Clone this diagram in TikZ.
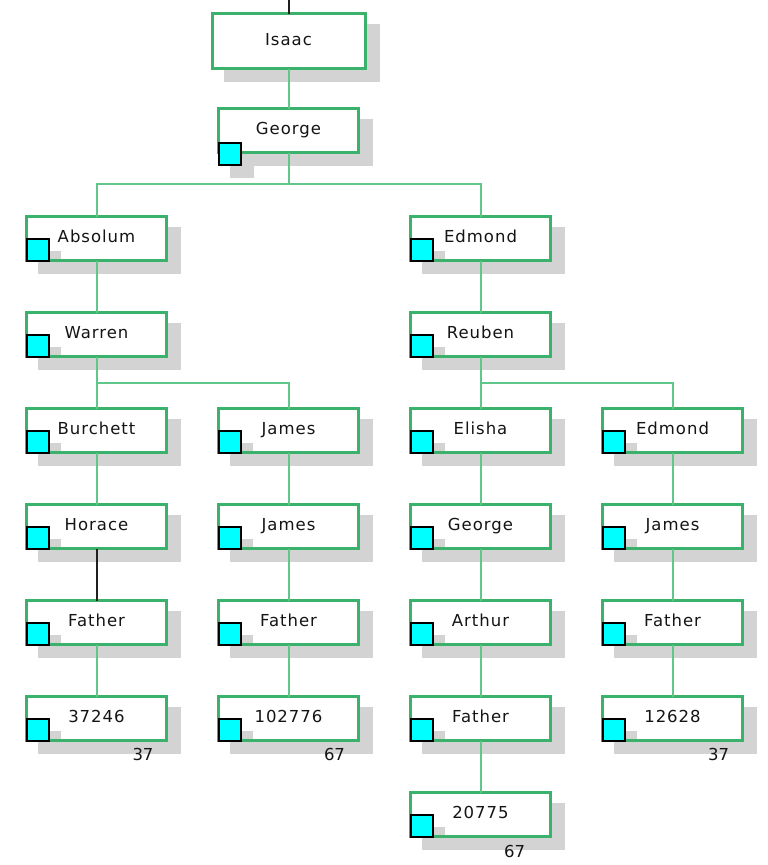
\documentclass[tikz,border=0pt]{standalone}
\usepackage{fontspec}
\setmainfont{DejaVu Sans}
\newfontfamily\lblfont[LetterSpace=6]{DejaVu Sans}
\usetikzlibrary{shadows}
\definecolor{boxgreen}{RGB}{58,178,108}
\definecolor{linkgreen}{RGB}{96,198,138}
\definecolor{shadowgray}{RGB}{211,211,211}
\definecolor{sqcyan}{RGB}{0,255,255}
\definecolor{inkc}{RGB}{20,20,20}
\pgfdeclarelayer{background}
\pgfsetlayers{background,main}
\tikzset{
  base/.style={draw=boxgreen, line width=3pt, fill=white, inner sep=0pt, outer sep=0pt,
    text=inkc, font=\lblfont\fontsize{16.5}{19}\selectfont, text height=11.5pt, text depth=3.5pt,
    general shadow={shadow xshift=13pt, shadow yshift=-12pt, fill=shadowgray, draw=shadowgray, line width=3pt}},
  isaacbox/.style={base, minimum width=153pt, minimum height=55pt},
  person/.style={base, minimum width=140pt, minimum height=44pt},
  sqshade/.style={path picture={\fill[shadowgray] ([xshift=10.5pt,yshift=9.5pt]path picture bounding box.south west) rectangle ++(24pt,-24pt);}},
  pbox/.style={person, sqshade},
  marker/.style={draw=black, line width=2pt, fill=sqcyan, minimum size=22pt, inner sep=0pt, outer sep=0pt},
  cornermark/.style={marker, anchor=south west},
  link/.style={draw=linkgreen, line width=2pt},
  blacklink/.style={draw=black!88, line width=2pt},
  count/.style={text=inkc, font=\fontsize{16.5}{19}\selectfont, inner sep=0pt},
}
\begin{document}
\begin{tikzpicture}[x=1pt, y=-1pt]
\useasboundingbox (0,0) rectangle (768,865);
% boxes
\node[isaacbox] (isaac) at (288.5,41) {Isaac};
\node[person] (george) at (288.5,130.5) {George};
\node[marker, anchor=west] (george-m) at ([yshift=-1.5pt]george.south west) {};
\begin{pgfonlayer}{background}
\fill[shadowgray] ([shift={(11pt,-13pt)}]george-m.south west) rectangle ([shift={(13pt,-11pt)}]george-m.north east);
\end{pgfonlayer}

% column 0
\node[pbox] (absolum) at (96.5,238.5) {Absolum};
\node[cornermark] (absolum-m) at (absolum.south west) {};
\node[pbox] (warren) at (96.5,334.5) {Warren};
\node[cornermark] (warren-m) at (warren.south west) {};
\node[pbox] (burchett) at (96.5,430.5) {Burchett};
\node[cornermark] (burchett-m) at (burchett.south west) {};
\node[pbox] (horace) at (96.5,526.5) {Horace};
\node[cornermark] (horace-m) at (horace.south west) {};
\node[pbox] (fatherA) at (96.5,622.5) {Father};
\node[cornermark] (fatherA-m) at (fatherA.south west) {};
\node[pbox] (idA) at (96.5,718.5) {37246};
\node[cornermark] (idA-m) at (idA.south west) {};
\node[count] (cntA) at (143,754) {37};

% column 1
\node[pbox] (jamesA) at (288.5,430.5) {James};
\node[cornermark] (jamesA-m) at (jamesA.south west) {};
\node[pbox] (jamesB) at (288.5,526.5) {James};
\node[cornermark] (jamesB-m) at (jamesB.south west) {};
\node[pbox] (fatherB) at (288.5,622.5) {Father};
\node[cornermark] (fatherB-m) at (fatherB.south west) {};
\node[pbox] (idB) at (288.5,718.5) {102776};
\node[cornermark] (idB-m) at (idB.south west) {};
\node[count] (cntB) at (334.5,754) {67};

% column 2
\node[pbox] (edmondA) at (480.5,238.5) {Edmond};
\node[cornermark] (edmondA-m) at (edmondA.south west) {};
\node[pbox] (reuben) at (480.5,334.5) {Reuben};
\node[cornermark] (reuben-m) at (reuben.south west) {};
\node[pbox] (elisha) at (480.5,430.5) {Elisha};
\node[cornermark] (elisha-m) at (elisha.south west) {};
\node[pbox] (georgeB) at (480.5,526.5) {George};
\node[cornermark] (georgeB-m) at (georgeB.south west) {};
\node[pbox] (arthur) at (480.5,622.5) {Arthur};
\node[cornermark] (arthur-m) at (arthur.south west) {};
\node[pbox] (fatherC) at (480.5,718.5) {Father};
\node[cornermark] (fatherC-m) at (fatherC.south west) {};
\node[pbox] (idC) at (480.5,814.5) {20775};
\node[cornermark] (idC-m) at (idC.south west) {};
\node[count] (cntC) at (514.5,851) {67};

% column 3
\node[pbox] (edmondB) at (672.5,430.5) {Edmond};
\node[cornermark] (edmondB-m) at (edmondB.south west) {};
\node[pbox] (jamesC) at (672.5,526.5) {James};
\node[cornermark] (jamesC-m) at (jamesC.south west) {};
\node[pbox] (fatherD) at (672.5,622.5) {Father};
\node[cornermark] (fatherD-m) at (fatherD.south west) {};
\node[pbox] (idD) at (672.5,718.5) {12628};
\node[cornermark] (idD-m) at (idD.south west) {};
\node[count] (cntD) at (718.5,754) {37};

% connectors
\coordinate (top) at (288.5,0);
\coordinate (gbus) at (288.5,184);
\coordinate (wbus) at (96.5,383);
\coordinate (rbus) at (480.5,383);

\draw[blacklink] (top) -- (isaac.north);
\draw[link] (isaac.south) -- (george.north);
\draw[link] (george.south) -- (gbus);
\draw[link] (absolum.north) |- (gbus) -| (edmondA.north);
\draw[link] (absolum.south) -- (warren.north);
\draw[link] (warren.south) -- (burchett.north);
\draw[link] (wbus) -| (jamesA.north);
\draw[link] (burchett.south) -- (horace.north);
\draw[blacklink] (horace.south) -- (fatherA.north);
\draw[link] (fatherA.south) -- (idA.north);
\draw[link] (jamesA.south) -- (jamesB.north);
\draw[link] (jamesB.south) -- (fatherB.north);
\draw[link] (fatherB.south) -- (idB.north);
\draw[link] (edmondA.south) -- (reuben.north);
\draw[link] (reuben.south) -- (elisha.north);
\draw[link] (rbus) -| (edmondB.north);
\draw[link] (elisha.south) -- (georgeB.north);
\draw[link] (georgeB.south) -- (arthur.north);
\draw[link] (arthur.south) -- (fatherC.north);
\draw[link] (fatherC.south) -- (idC.north);
\draw[link] (edmondB.south) -- (jamesC.north);
\draw[link] (jamesC.south) -- (fatherD.north);
\draw[link] (fatherD.south) -- (idD.north);
\end{tikzpicture}
\end{document}
